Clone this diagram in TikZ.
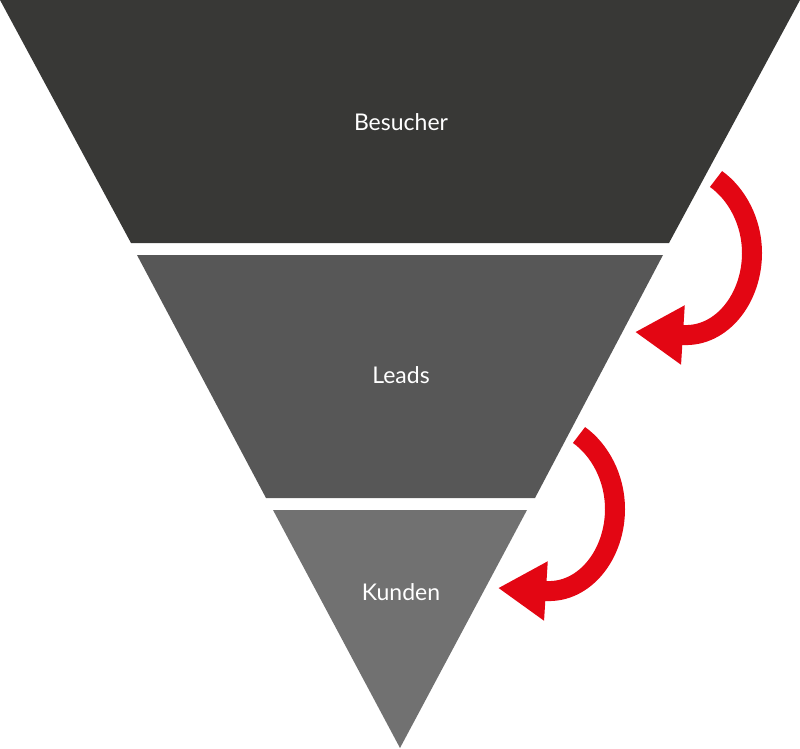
\documentclass[tikz,border=0pt]{standalone}
\usepackage{fontspec}
\setmainfont{Lato}
\usetikzlibrary{arrows.meta}
\usetikzlibrary{positioning}
\definecolor{besuchergray}{HTML}{383836}
\definecolor{leadsgray}{HTML}{575757}
\definecolor{kundengray}{HTML}{717171}
\definecolor{funnelred}{HTML}{E30613}

\begin{document}
\begin{tikzpicture}[x=1pt,y=-1pt,
    stagetext/.style={text=white,font=\fontsize{23}{27}\selectfont,anchor=base},
    flow/.style={draw=funnelred,line width=20pt,-{Triangle[length=48pt,width=56pt]}}]
    \useasboundingbox (0,0) rectangle (800,749);
    % Place stages
    \fill[besuchergray] (0,0) -- (800,0) -- (669,243) -- (131,243) -- cycle;
    \fill[leadsgray] (137,255) -- (663,255) -- (535,498) -- (266,498) -- cycle;
    \fill[kundengray] (273,510) -- (527,510) -- (400,748) -- cycle;
    % Place labels
    \node[stagetext] (besucher) at (401,131) {Besucher};
    \node[stagetext] (leads) at (401,383) {Leads};
    \node[stagetext] (kunden) at (401,600) {Kunden};
    % Place arrows
    \coordinate (from1) at (716,179);
    \coordinate (to1) at (635,332);
    \coordinate (from2) at (579,435);
    \coordinate (to2) at (498,588);
    \draw[flow] (from1) .. controls +(21,15) and +(0,-31) .. (752,253)
        .. controls +(0,45) and +(39,2) .. (683,335) -- (to1);
    \draw[flow] (from2) .. controls +(21,15) and +(0,-31) .. (615,509)
        .. controls +(0,45) and +(39,2) .. (546,591) -- (to2);
\end{tikzpicture}
\end{document}
